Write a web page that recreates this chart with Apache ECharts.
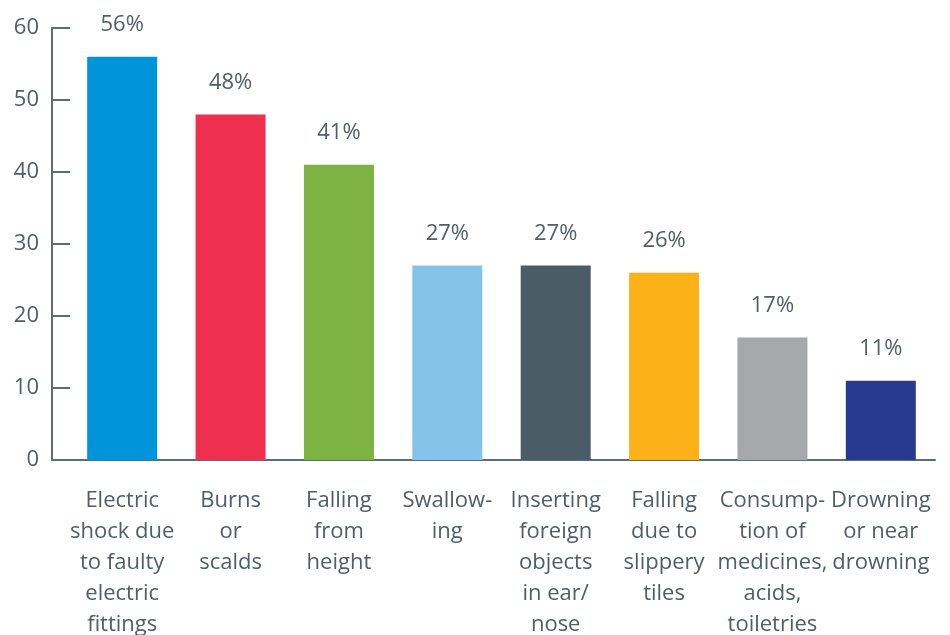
<!DOCTYPE html>
<html>
<head>
<meta charset="utf-8">
<script src="https://cdn.jsdelivr.net/npm/echarts@6/dist/echarts.min.js"></script>
<style>
  html, body { margin: 0; padding: 0; background: #fff; }
  #chart { width: 950px; height: 635px; }
</style>
</head>
<body>
<div id="chart"></div>
<script>
var CATEGORIES = [
  'Electric\nshock due\nto faulty\nelectric\nfittings',
  'Burns\nor\nscalds',
  'Falling\nfrom\nheight',
  'Swallow-\ning',
  'Inserting\nforeign\nobjects\nin ear/\nnose',
  'Falling\ndue to\nslippery\ntiles',
  'Consump-\ntion of\nmedicines,\nacids,\ntoiletries',
  'Drowning\nor near\ndrowning'
];
var VALUES = [56, 48, 41, 27, 27, 26, 17, 11];
var BAR_COLORS = ['#0095da', '#ee304e', '#7cb342', '#85c3eb', '#4a5d67', '#fbb117', '#a7a8ac', '#283a90'];
var Y_TICKS = [0, 10, 20, 30, 40, 50, 60];

var AXIS_COLOR = '#5d6d77';
var TEXT_COLOR = '#4e5f69';
var FONT = '"Open Sans"';

var chart = echarts.init(document.getElementById('chart'), null, { renderer: 'canvas' });

chart.setOption({
  animation: false,
  grid: {
    left: 68, right: 15, top: 28, bottom: 175,
    containLabel: false,
    outerBoundsMode: 'none'
  },
  xAxis: {
    type: 'category',
    data: CATEGORIES,
    axisLine: { lineStyle: { color: AXIS_COLOR, width: 2 } },
    axisTick: { show: false },
    axisLabel: {
      interval: 0,
      margin: 25,
      color: TEXT_COLOR,
      fontFamily: FONT,
      fontSize: 22,
      lineHeight: 31,
      align: 'center',
      hideOverlap: false
    }
  },
  yAxis: {
    type: 'value',
    min: Y_TICKS[0],
    max: Y_TICKS[Y_TICKS.length - 1],
    interval: 10,
    offset: 16,
    splitLine: { show: false },
    axisLine: { show: true, lineStyle: { color: AXIS_COLOR, width: 2 } },
    axisTick: { show: true, inside: true, length: 18, lineStyle: { color: AXIS_COLOR, width: 2 } },
    axisLabel: {
      margin: 13,
      padding: [6, 0, 0, 0],
      color: TEXT_COLOR,
      fontFamily: FONT,
      fontSize: 22
    }
  },
  series: [{
    type: 'bar',
    barWidth: 70,
    data: VALUES.map(function (v, i) {
      return { value: v, itemStyle: { color: BAR_COLORS[i] } };
    }),
    label: {
      show: true,
      position: 'top',
      distance: 21,
      formatter: '{c}%',
      color: TEXT_COLOR,
      fontFamily: FONT,
      fontSize: 22
    }
  }]
});
</script>
</body>
</html>
